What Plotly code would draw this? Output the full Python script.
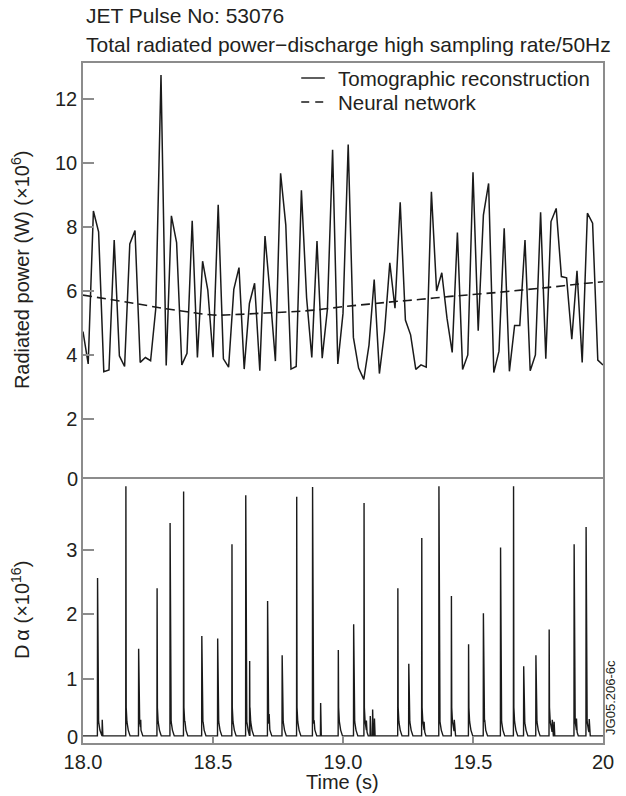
import numpy as np
import plotly.graph_objects as go
from plotly.subplots import make_subplots

# ---------------- data ----------------
# Total radiated power, tomographic reconstruction, sampled at 50 Hz (x10^6 W)
radiated_power = [
    4.74, 3.73, 8.51, 7.86, 3.49, 3.54, 7.60, 3.98, 3.65, 7.48,
    7.90, 3.78, 3.93, 3.83, 5.47, 12.76, 3.68, 8.36, 7.52, 3.70,
    4.06, 8.20, 3.93, 6.94, 6.04, 3.94, 8.70, 3.89, 3.63, 6.06,
    6.74, 3.57, 5.62, 6.25, 3.52, 7.73, 5.86, 3.82, 9.69, 8.07,
    3.57, 3.65, 9.16, 5.80, 3.93, 7.57, 3.91, 5.44, 10.42, 3.73,
    5.31, 10.59, 4.56, 3.60, 3.25, 4.32, 6.37, 3.43, 4.76, 6.89,
    5.47, 8.78, 5.10, 4.64, 3.56, 3.70, 3.63, 9.11, 6.01, 6.58,
    5.16, 4.09, 7.84, 3.56, 4.01, 9.72, 4.77, 8.38, 9.37, 3.46,
    4.13, 7.97, 3.50, 4.93, 4.93, 7.60, 3.52, 4.01, 8.47, 3.89,
    8.18, 8.59, 6.46, 6.42, 4.50, 6.64, 3.78, 8.44, 8.13, 3.85,
    3.70,
]
sample_time = [round(18.0 + 0.02 * i, 2) for i in range(len(radiated_power))]

# Neural network prediction (x10^6 W)
nn_time = [18.0, 18.1, 18.2, 18.3, 18.4, 18.5, 18.6, 18.7, 18.8, 18.9, 19.0,
           19.1, 19.2, 19.3, 19.4, 19.5, 19.6, 19.7, 19.8, 19.9, 20.0]
nn_power = [5.88, 5.75, 5.62, 5.48, 5.36, 5.26, 5.28, 5.32, 5.36, 5.42, 5.52,
            5.60, 5.68, 5.75, 5.83, 5.90, 5.97, 6.05, 6.13, 6.22, 6.30]

# D-alpha ELM spikes (x10^16)
elm_time = [18.056, 18.165, 18.214, 18.285, 18.335, 18.387, 18.457, 18.518,
            18.573, 18.626, 18.641, 18.710, 18.766, 18.822, 18.883, 18.982,
            19.041, 19.081, 19.211, 19.253, 19.303, 19.369, 19.417, 19.483,
            19.540, 19.606, 19.656, 19.695, 19.742, 19.793, 19.889, 19.935]
elm_peak = [2.56, 3.98, 1.46, 2.40, 3.41, 3.90, 1.66, 1.62,
            3.08, 3.84, 1.27, 2.20, 1.36, 3.82, 3.97, 1.44,
            1.84, 3.72, 2.40, 1.23, 3.18, 3.98, 2.28, 1.53,
            2.01, 3.03, 3.98, 1.19, 1.36, 1.76, 3.08, 3.35]
# small secondary bursts
bump_time = [18.074, 18.222, 18.392, 18.462, 18.716, 18.889, 18.914, 19.090,
             19.105, 19.114, 19.121, 19.312, 19.428, 19.545, 19.700, 19.805,
             19.812, 19.898, 19.947]
bump_height = [0.36, 0.36, 0.34, 0.33, 0.45, 0.35, 0.62, 0.35,
               0.42, 0.52, 0.38, 0.33, 0.36, 0.36, 0.30, 0.36,
               0.33, 0.38, 0.37]
da_baseline = 0.11

# ---------------- build D-alpha trace from the spike lists ----------------
kx = [18.0, 20.0]
ky = [da_baseline, da_baseline]
for t, h in zip(elm_time, elm_peak):
    kx += [t - 0.0006, t, t + 0.0012, t + 0.004, t + 0.009, t + 0.016]
    ky += [da_baseline, h, 0.55, 0.33, 0.20, da_baseline]
order = np.argsort(kx, kind="stable")
kx = np.array(kx)[order]
ky = np.array(ky)[order]
bx, by = [], []
for t, h in zip(bump_time, bump_height):
    bx += [t - 0.0008, t, t + 0.0025]
    by += [float(np.interp(t - 0.0008, kx, ky)), h, float(np.interp(t + 0.0025, kx, ky))]
da_x = np.concatenate([kx, bx])
da_y = np.concatenate([ky, by])
order = np.argsort(da_x, kind="stable")
da_x = da_x[order]
da_y = da_y[order]

# ---------------- figure ----------------
FONT = "Liberation Sans, Arial, Helvetica, sans-serif"
TXT = "#231f20"
AX = "#8c8c8c"
LINE = "#1a1a1a"

fig = make_subplots(rows=2, cols=1, shared_xaxes=True, vertical_spacing=0,
                    row_heights=[0.6118, 0.3882])

fig.add_trace(go.Scatter(x=sample_time, y=radiated_power, mode="lines",
                         line=dict(color=LINE, width=1.5),
                         name="Tomographic reconstruction", showlegend=False),
              row=1, col=1)
fig.add_trace(go.Scatter(x=nn_time, y=nn_power, mode="lines",
                         line=dict(color=LINE, width=1.6, dash="9px,5px", shape="spline"),
                         name="Neural network", showlegend=False),
              row=1, col=1)
fig.add_trace(go.Scatter(x=da_x, y=da_y, mode="lines",
                         line=dict(color=LINE, width=1.4),
                         name="D alpha", showlegend=False),
              row=2, col=1)

TICKSIZE = 20
axis_common = dict(showline=True, linecolor=AX, linewidth=1.5,
                   showgrid=False, zeroline=False, tickcolor=AX, tickwidth=1.5,
                   tickfont=dict(family=FONT, size=TICKSIZE, color=TXT))

fig.update_xaxes(range=[18, 20], **axis_common)
# top panel: draw only its upper frame line
fig.update_xaxes(ticks="", showticklabels=False, side="top", mirror=False,
                 row=1, col=1)
fig.update_xaxes(ticks="inside", ticklen=7, mirror=True,
                 tickvals=[18.0, 18.5, 19.0, 19.5, 20.0],
                 ticktext=["18.0", "18.5", "19.0", "19.5", "20"],
                 row=2, col=1)
fig.update_yaxes(mirror=True, **axis_common)
fig.update_yaxes(range=[0.134, 13.134], ticks="inside", ticklen=11,
                 tickvals=[2, 4, 6, 8, 10, 12], row=1, col=1)
fig.update_yaxes(range=[0, 4.093], ticks="inside", ticklen=11,
                 tickvals=[1, 2, 3], row=2, col=1)

W, H = 626, 796
L, R, T, B = 83, 14, 63, 53
pw, ph = W - L - R, H - T - B


def px(x):
    return (x - L) / pw


def py(y):
    return (H - B - y) / ph


ann = []
# titles
ann.append(dict(text="JET Pulse No: 53076", x=px(84), y=py(15), xanchor="left",
                yanchor="middle", size=21))
ann.append(dict(text="Total radiated power\u2212discharge high sampling rate/50Hz",
                x=px(84), y=py(44), xanchor="left", yanchor="middle", size=21))
# zero labels at the panel junction and bottom
ann.append(dict(text="0", x=px(80), y=py(479), xanchor="right", yanchor="middle",
                size=TICKSIZE))
ann.append(dict(text="0", x=px(80), y=py(737), xanchor="right", yanchor="middle",
                size=TICKSIZE))
# axis titles
ann.append(dict(text="Radiated power (W) (\u00d710<sup>6</sup>)", x=px(19), y=py(270),
                textangle=-90, xanchor="center", yanchor="middle", size=20))
ann.append(dict(text="D\u2009\u03b1 (\u00d710<sup>16</sup>)", x=px(19), y=py(610),
                textangle=-90, xanchor="center", yanchor="middle", size=20))
ann.append(dict(text="Time (s)", x=px(347), y=py(782), xanchor="center",
                yanchor="middle", size=20))
# legend
ann.append(dict(text="Tomographic reconstruction", x=px(340), y=py(78),
                xanchor="left", yanchor="middle", size=20.5))
ann.append(dict(text="Neural network", x=px(340), y=py(102),
                xanchor="left", yanchor="middle", size=20.5))
# figure code
ann.append(dict(text="JG05.206-6c", x=px(619), y=py(697), textangle=-90,
                xanchor="center", yanchor="middle", size=13))

layout_ann = []
for a in ann:
    size = a.pop("size")
    a["showarrow"] = False
    a["xref"] = "paper"
    a["yref"] = "paper"
    a["font"] = dict(family=FONT, color=TXT, size=size)
    layout_ann.append(a)
fig.update_layout(annotations=layout_ann)

shapes = [
    dict(type="line", xref="paper", yref="paper", x0=px(305), x1=px(329),
         y0=py(78), y1=py(78), line=dict(color=LINE, width=1.4)),
    dict(type="line", xref="paper", yref="paper", x0=px(305), x1=px(329),
         y0=py(102), y1=py(102), line=dict(color=LINE, width=1.6, dash="8px,6px")),
]
fig.update_layout(shapes=shapes)

fig.update_layout(width=W, height=H, margin=dict(l=L, r=R, t=T, b=B),
                  paper_bgcolor="white", plot_bgcolor="white",
                  font=dict(family=FONT, color=TXT), showlegend=False)

fig.write_html("out.html", config={"displayModeBar": False},
               post_script="document.body.style.margin='0px';"
                           "document.body.style.overflow='hidden';")
